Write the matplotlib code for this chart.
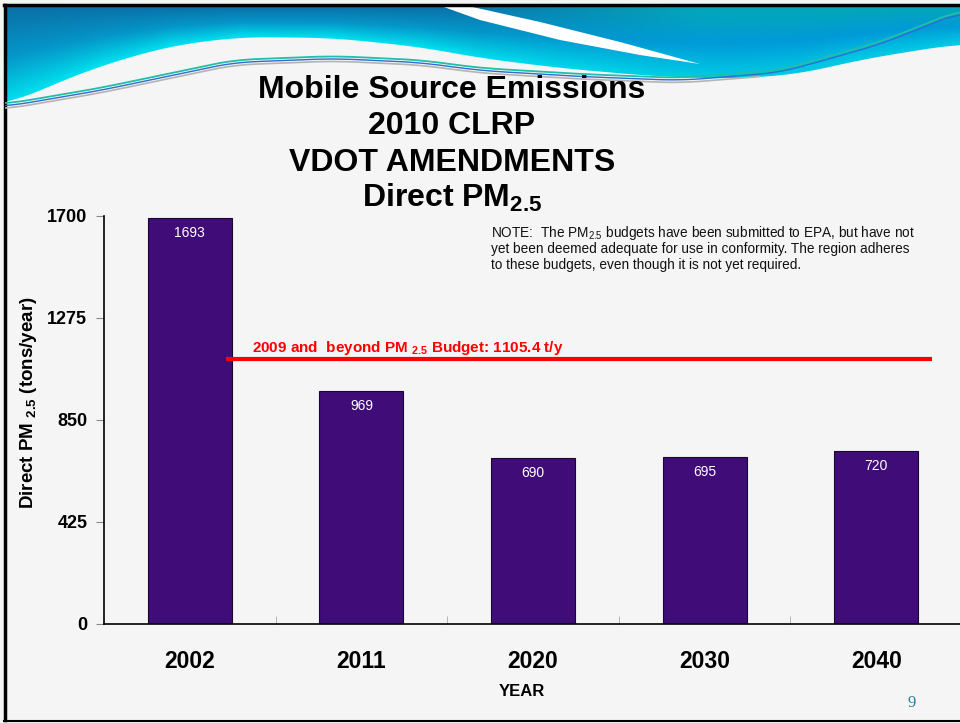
import numpy as np
import matplotlib.pyplot as plt
from matplotlib.patches import Polygon
from matplotlib.colors import to_rgb

# data
years = ["2002", "2011", "2020", "2030", "2040"]
emissions = [1693, 969, 690, 695, 720]
budget = 1105.4
y_ticks = [0, 425, 850, 1275, 1700]

plt.rcParams["font.family"] = ["Liberation Sans", "DejaVu Sans"]
plt.rcParams["mathtext.fontset"] = "custom"
plt.rcParams["mathtext.rm"] = "Liberation Sans"
plt.rcParams["mathtext.bf"] = "Liberation Sans:bold"

W, H = 960, 723
fig = plt.figure(figsize=(9.6, 7.23), dpi=100, facecolor="#f5f5f5")

# %% slide background (pixel coordinates, y down)
bg = fig.add_axes([0, 0, 1, 1], zorder=0)
bg.set_xlim(0, W)
bg.set_ylim(H, 0)
bg.axis("off")


def smooth(px, py, n=600, k=41):
    x = np.linspace(px[0], px[-1], n)
    y = np.interp(x, px, py)
    yp = np.pad(y, k // 2, mode="edge")
    return x, np.convolve(yp, np.ones(k) / k, mode="valid")


# blue swoosh at the top
edge_x = [6, 50, 100, 170, 240, 333, 420, 480, 560, 650, 730, 800, 850, 900, 960]
edge_y = [105, 86, 66, 46, 37, 38, 47, 58, 68, 76, 79, 74, 62, 53, 44]
sx, sy = smooth(edge_x, edge_y)
poly = np.vstack([np.column_stack([sx, sy]), [[960, 6], [6, 6]]])
swoosh = Polygon(poly, closed=True, facecolor="none", edgecolor="none")
bg.add_patch(swoosh)

gx = np.arange(W)
gy = np.arange(112)
X, Y = np.meshgrid(gx, gy)
bottom = np.interp(X, edge_x, edge_y)
t = np.clip((Y - 6) / (bottom - 6), 0, 1)[..., None]
s = np.clip((X - 450) / 250, 0, 1)[..., None]
top_c = (1 - s) * np.array(to_rgb("#0a70a8")) + s * np.array(to_rgb("#04a8b6"))
mid_c = (1 - s) * np.array(to_rgb("#0596c8")) + s * np.array(to_rgb("#009ad8"))
bot_c = (1 - s) * np.array(to_rgb("#00e2f0")) + s * np.array(to_rgb("#00cde5"))
t1 = np.clip(t * 2, 0, 1)
t2 = np.clip(t * 2 - 1, 0, 1)
img = np.where(t < 0.5, (1 - t1) * top_c + t1 * mid_c, (1 - t2) * mid_c + t2 * bot_c)
im = bg.imshow(img, extent=(0, W, 112, 0), origin="upper", aspect="auto", zorder=1)
im.set_clip_path(swoosh)

# white stripe through the swoosh
stripe = [[441, 6], [468, 6], [540, 22], [620, 42], [700, 64],
          [640, 55], [560, 40], [480, 20]]
bg.add_patch(Polygon(stripe, closed=True, facecolor="white", edgecolor="none", zorder=2))

# thin lines along the swoosh
lx, ly = smooth([6, 100, 233, 333, 420, 480, 580, 680, 780, 880, 960],
                [104, 88, 60, 56, 60, 68, 74, 78, 70, 42, 10], k=31)
bg.plot(lx, ly, color="#1fbfa8", lw=1.3, zorder=3)
bg.plot(lx, ly + 2.5, color="#2b6fd0", lw=1.0, zorder=3)
bg.plot(lx[lx < 760], ly[lx < 760] + 5, color="#b4b4b4", lw=1.2, zorder=3)

# slide frame
bg.plot([4.5, 4.5], [5, 720], color="black", lw=2.5)
bg.plot([4, W], [5, 5], color="black", lw=2.5)
bg.plot([4, W], [720.5, 720.5], color="black", lw=1.5)

# titles
title_lines = ["Mobile Source Emissions", "2010 CLRP", "VDOT AMENDMENTS",
               r"Direct PM$_{\mathbf{2.5}}$"]
for line, yb in zip(title_lines, [98, 134, 171, 207]):
    bg.text(452, yb, line, ha="center", va="baseline", fontsize=23,
            fontweight="bold", color="black", zorder=5)

note_lines = [r"NOTE:  The PM$_{2.5}$ budgets have been submitted to EPA, but have not",
              "yet been deemed adequate for use in conformity. The region adheres",
              "to these budgets, even though it is not yet required."]
for line, yb in zip(note_lines, [237, 253, 269]):
    bg.text(491, yb, line, ha="left", va="baseline", fontsize=9.8, color="#111111", zorder=5)

bg.text(912, 703, "9", ha="center", va="center", fontsize=12,
        family=["Liberation Serif", "DejaVu Serif"], color="#2b7f9c")

# %% chart
ax = fig.add_axes([104 / W, 1 - 624 / H, 858 / W, 408 / H], zorder=2)
ax.patch.set_alpha(0)
x = np.arange(len(years))
ax.bar(x, emissions, width=0.49, color="#400c78", edgecolor="#1a0830", linewidth=0.8, zorder=2)
for xi, v in zip(x, emissions):
    ax.annotate(str(v), (xi, v), xytext=(0, -19), textcoords="offset pixels",
                ha="center", va="baseline", color="white", fontsize=10, zorder=4)

ax.hlines(budget, 0.21, 4.325, color="#ff0000", lw=3, zorder=3)
ax.annotate(r"2009 and  beyond PM $_{\mathbf{2.5}}$ Budget: 1105.4 t/y", (0.36, budget),
            xytext=(0, 7), textcoords="offset pixels", ha="left", va="baseline",
            color="#ff0000", fontsize=11, fontweight="bold")

ax.set_xlim(-0.5, len(years) - 0.5)
ax.set_ylim(0, 1700)
ax.set_yticks(y_ticks)
ax.set_yticklabels([str(v) for v in y_ticks], fontsize=13, fontweight="bold")
ax.tick_params(axis="y", direction="out", length=6, color="#888888", pad=6)
ax.set_xticks(x)
ax.set_xticklabels(years, fontsize=16.5, fontweight="bold")
ax.tick_params(axis="x", length=0, pad=19)
ax.set_xticks(x[:-1] + 0.5, minor=True)
ax.tick_params(axis="x", which="minor", direction="in", length=6, color="#aaaaaa")
for side in ["top", "right"]:
    ax.spines[side].set_visible(False)
ax.spines["left"].set_linewidth(1.2)
ax.spines["bottom"].set_linewidth(1.2)

ax.set_xlabel("YEAR", fontsize=12, fontweight="bold")
ax.xaxis.set_label_coords((522 - 104) / 858, (624 - 691) / 408)
ax.xaxis.label.set_va("center")
ax.set_ylabel(r"Direct PM $_{\mathbf{2.5}}$ (tons/year)", fontsize=13.5, fontweight="bold")
ax.yaxis.set_label_coords((29 - 104) / 858, (624 - 403) / 408)
ax.yaxis.label.set_va("center")

fig.savefig("out.png", dpi=100, facecolor=fig.get_facecolor())
